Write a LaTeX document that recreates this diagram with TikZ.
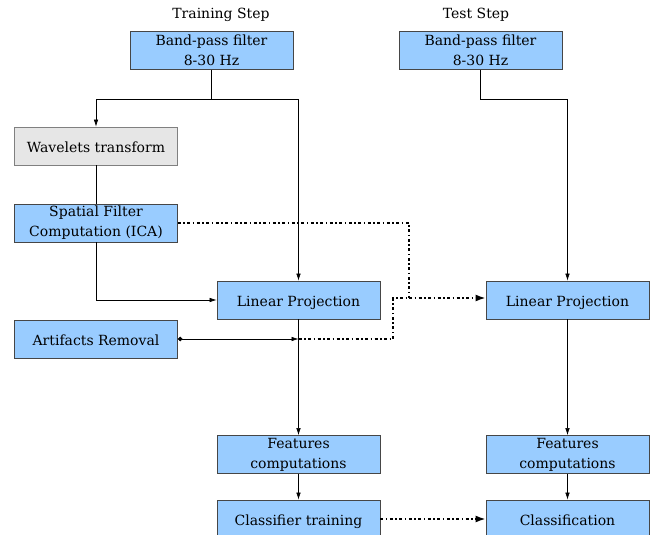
\documentclass[tikz,border=0pt]{standalone}
\usepackage{fontspec}
\setmainfont{DejaVu Serif}
\usetikzlibrary{arrows.meta}
\definecolor{boxblue}{RGB}{153,204,255}
\definecolor{boxgray}{RGB}{230,230,230}
\definecolor{edgegray}{RGB}{70,70,70}

\begin{document}
\begin{tikzpicture}[x=1pt,y=-1pt,
	blk/.style={draw=edgegray,line width=0.8pt,fill=boxblue,minimum width=163pt,minimum height=38pt,inner sep=0pt,align=center,font=\fontsize{14}{20}\selectfont},
	oneline/.style={text height=13pt,text depth=0pt},
	gblk/.style={blk,oneline,fill=boxgray,draw=gray},
	lbl/.style={font=\fontsize{14}{16}\selectfont},
	conn/.style={line width=0.6pt,-{Latex[length=7pt,width=4.5pt]}},
	ddot/.style={line width=1.6pt,dash pattern=on 3pt off 2.5pt on 1.5pt off 2.5pt}]
	\useasboundingbox (0,0) rectangle (657,535);
	
	% titles
	\node[lbl] (ttrain) at (221,15) {Training Step};
	\node[lbl] (ttest) at (476,15) {Test Step};
	
	% training column
	\node[blk] (bp1) at (211.5,50.5) {Band-pass filter\\8-30 Hz};
	\node[gblk] (wav) at (96,146) {Wavelets transform};
	\node[blk] (sf) at (96,223) {Spatial Filter\\Computation (ICA)};
	\node[blk,oneline] (art) at (96,339) {Artifacts Removal};
	\node[blk,oneline] (lp1) at (298.5,300) {Linear Projection};
	\node[blk] (fc1) at (298.5,454.5) {Features\\computations};
	\node[blk,oneline] (cl1) at (298.5,519) {Classifier training};
	
	% test column
	\node[blk] (bp2) at (480.5,50.5) {Band-pass filter\\8-30 Hz};
	\node[blk,oneline] (lp2) at (567.5,300) {Linear Projection};
	\node[blk] (fc2) at (567.5,454.5) {Features\\computations};
	\node[blk,oneline] (cl2) at (567.5,519) {Classification};
	
	\coordinate (split1) at (211.5,99);
	\coordinate (split2) at (480.5,99);
	\coordinate (join) at (298.5,339);
	\coordinate (merge) at (409,298);
	
	% solid connectors
	\draw[line width=0.6pt] (bp1.south) -- (split1);
	\draw[conn] (split1) -| (wav.north);
	\draw[conn] (split1) -| (lp1.north);
	\draw[line width=0.6pt] (wav.south) -- (sf.north);
	\draw[conn] (sf.south) |- (lp1.west);
	\draw[line width=0.6pt,{Circle[length=4.5pt]}-{Latex[length=7pt,width=4.5pt]}] (art.east) -- (join);
	\draw[conn] (lp1.south) -- (fc1.north);
	\draw[conn] (fc1.south) -- (cl1.north);
	\draw[conn] (bp2.south) -- (split2) -| (lp2.north);
	\draw[conn] (lp2.south) -- (fc2.north);
	\draw[conn] (fc2.south) -- (cl2.north);
	
	% dotted connectors
	\draw[ddot] (sf.east) -| (merge);
	\draw[ddot] (join) -| (393,298) -- (merge);
	\draw[ddot,-{Latex[length=10pt,width=7pt]}] (merge) -- (lp2.west |- merge);
	\draw[ddot,-{Latex[length=10pt,width=7pt]}] (cl1.east) -- (cl2.west);
\end{tikzpicture}
\end{document}
